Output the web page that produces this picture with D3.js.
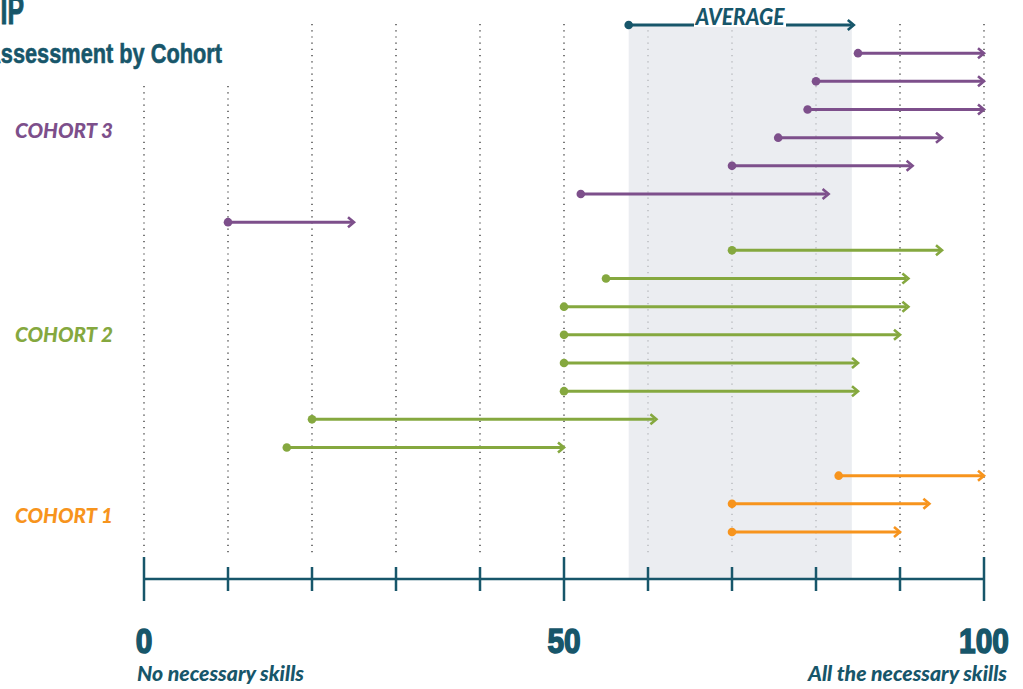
<!DOCTYPE html>
<html>
	<head>
		<meta charset="utf-8">
		<title>Self-Assessment by Cohort</title>
		<style>
			body { margin: 0; background: #fff; }
			svg { display: block; }
			text { font-family: "Liberation Sans", sans-serif; font-weight: bold; }
			text.lato { font-family: Lato, "Noto Sans", sans-serif; font-weight: 900; font-style: italic; }
		</style>
	</head>
	<body>
		<svg></svg>
		<script src="https://d3js.org/d3.v7.min.js"></script>
		<script>
			// data
			var cohortNames = ["COHORT 3", "COHORT 2", "COHORT 1"]
			var cohortColors = ["#7d4f8b", "#85a83f", "#f7941d"]
			var cohort3Start = [85, 80, 79, 75.5, 70, 52, 10]
			var cohort3End = [100, 100, 100, 95, 91.5, 81.5, 25]
			var cohort2Start = [70, 55, 50, 50, 50, 50, 20, 17]
			var cohort2End = [95, 91, 91, 90, 85, 85, 61, 50]
			var cohort1Start = [82.7, 70, 70]
			var cohort1End = [100, 93.5, 90]
			var averageRange = [57.7, 84.5]
			var gridTicks = d3.range(0, 101, 10)
			var bigTicks = [0, 50, 100]

			// init vars
			var _width = 1023
			var _height = 689
			var _teal = "#17566a"
			var _svg = d3.select("svg").attr("width", _width).attr("height", _height)

			// rows: average first, then each cohort top to bottom
			var rows = []
			var starts = [cohort3Start, cohort2Start, cohort1Start]
			var ends = [cohort3End, cohort2End, cohort1End]
			starts.forEach(function(s, c) {
				s.forEach(function(v, i) {
					rows.push({ cohort: c, start: v, end: ends[c][i] })
				})
			})

			var x = d3.scaleLinear().domain([0, 100]).range([144, 984])
			var y = d3.scaleLinear().domain([0, rows.length]).range([25, 532])
			var axisY = 579

			// grid
			_svg.append("g").selectAll("line").data(gridTicks).join("line")
				.attr("x1", d => x(d)).attr("x2", d => x(d))
				.attr("y1", d => d < 20 ? 86 : 24)
				.attr("y2", 557)
				.attr("stroke", "#222")
				.attr("stroke-width", 1.2)
				.attr("stroke-dasharray", "1.2,5")

			// average band
			_svg.append("rect")
				.attr("x", x(averageRange[0]))
				.attr("width", x(averageRange[1]) - x(averageRange[0]) - 2)
				.attr("y", y(0))
				.attr("height", axisY - y(0))
				.attr("fill", "#e3e6ec")
				.attr("opacity", 0.72)

			// arrows
			function addArrow(g, x1, x2, yy, color) {
				g.append("line")
					.attr("x1", x1).attr("x2", x2 - 2)
					.attr("y1", yy).attr("y2", yy)
					.attr("stroke", color).attr("stroke-width", 3)
				g.append("path")
					.attr("d", "M" + (x2 - 6) + "," + (yy - 5) + "L" + x2 + "," + yy + "L" + (x2 - 6) + "," + (yy + 5))
					.attr("fill", "none").attr("stroke", color).attr("stroke-width", 2.6)
				g.append("circle")
					.attr("cx", x1).attr("cy", yy).attr("r", 4.3).attr("fill", color)
			}

			var arrows = _svg.append("g")
			addArrow(arrows, x(averageRange[0]), x(averageRange[1]), y(0), _teal)
			rows.forEach(function(r, i) {
				addArrow(arrows, x(r.start), x(r.end), y(i + 1), cohortColors[r.cohort])
			})

			// average label
			var avgX = 740
			_svg.append("rect").attr("x", avgX - 46).attr("y", 4).attr("width", 92).attr("height", 23).attr("fill", "#fff")
			_svg.append("text").attr("class", "lato").attr("x", avgX - 44.5).attr("y", 25)
				.attr("font-size", 23).attr("textLength", 89).attr("lengthAdjust", "spacingAndGlyphs")
				.attr("fill", _teal).text("AVERAGE")

			// cohort labels
			var labelRows = [4.01, 11.25, 17.68]
			cohortNames.forEach(function(n, c) {
				_svg.append("text").attr("class", "lato").attr("x", 15).attr("y", y(labelRows[c]))
					.attr("font-size", 20).attr("textLength", 98).attr("lengthAdjust", "spacingAndGlyphs")
					.attr("fill", cohortColors[c]).text(n)
			})

			// axis
			var axis = _svg.append("g").attr("stroke", _teal).attr("stroke-width", 2.5)
			axis.append("line").attr("x1", x(0)).attr("x2", x(100)).attr("y1", axisY).attr("y2", axisY)
			axis.selectAll(".tick").data(gridTicks).join("line")
				.attr("x1", d => x(d)).attr("x2", d => x(d))
				.attr("y1", d => bigTicks.includes(d) ? axisY - 22 : axisY - 12)
				.attr("y2", d => bigTicks.includes(d) ? axisY + 22 : axisY + 12)

			_svg.append("g").selectAll("text").data(bigTicks).join("text")
				.attr("x", d => x(d) - String(d).length * 8.3).attr("y", 653)
				.attr("font-size", 35)
				.attr("textLength", d => String(d).length * 16.6).attr("lengthAdjust", "spacingAndGlyphs")
				.attr("fill", _teal).attr("stroke", _teal).attr("stroke-width", 1.6)
				.text(d => d)

			_svg.append("text").attr("class", "lato").attr("x", 137).attr("y", 681)
				.attr("font-size", 20).attr("textLength", 167).attr("lengthAdjust", "spacingAndGlyphs")
				.attr("fill", _teal).text("No necessary skills")
			_svg.append("text").attr("class", "lato").attr("x", 808).attr("y", 681)
				.attr("font-size", 20).attr("textLength", 199).attr("lengthAdjust", "spacingAndGlyphs")
				.attr("fill", _teal).text("All the necessary skills")

			// title (cropped at the left edge)
			_svg.append("text").attr("x", -136).attr("y", 24)
				.attr("font-size", 40).attr("textLength", 160).attr("lengthAdjust", "spacingAndGlyphs")
				.attr("fill", _teal).attr("stroke", _teal).attr("stroke-width", 1)
				.text("LEADERSHIP")
			_svg.append("text").attr("x", -62).attr("y", 63)
				.attr("font-size", 28).attr("textLength", 284).attr("lengthAdjust", "spacingAndGlyphs")
				.attr("fill", _teal).attr("stroke", _teal).attr("stroke-width", 0.6)
				.text("Self-Assessment by Cohort")
		</script>
	</body>
</html>
